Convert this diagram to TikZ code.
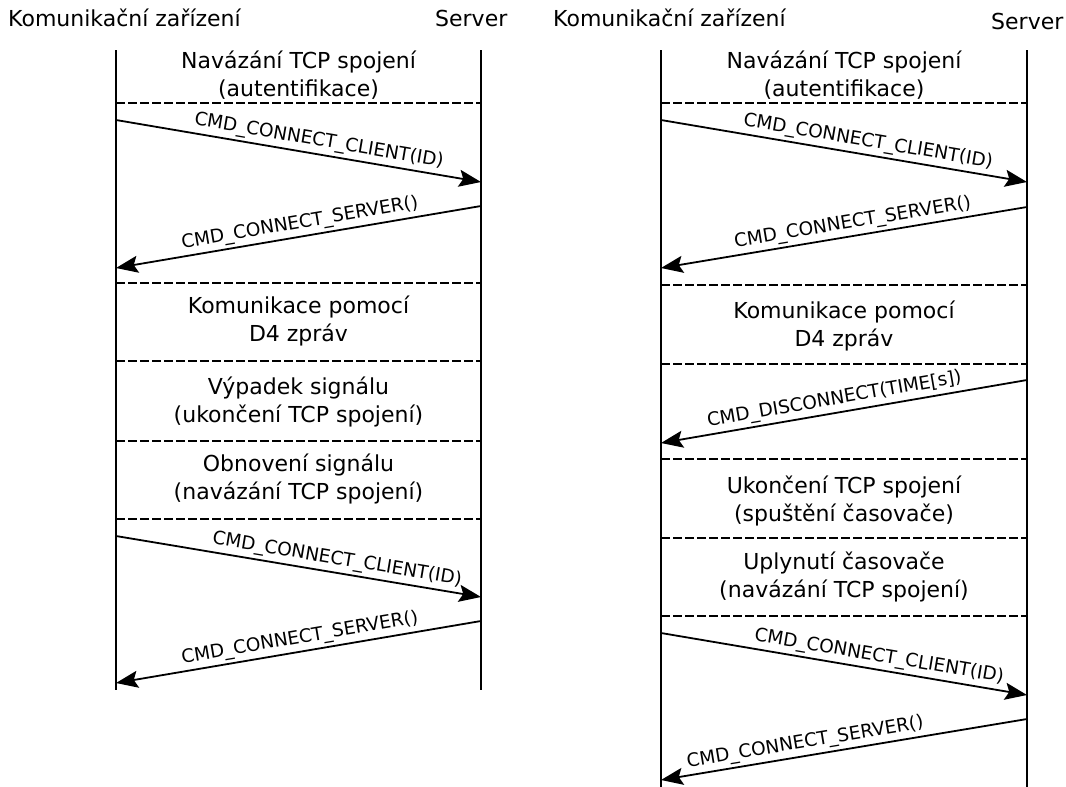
\documentclass[tikz,border=0pt]{standalone}
\usepackage{fontspec}
\setmainfont{DejaVu Sans}
\usetikzlibrary{arrows.meta}
\begin{document}
\begin{tikzpicture}[x=1pt,y=-1pt,
  life/.style={line width=2.3pt},
  sep/.style={line width=1.4pt, dash pattern=on 9pt off 3pt},
  msg/.style={line width=1.8pt, -{Stealth[length=22pt,width=17pt,inset=4pt]}},
  lbl/.style={font=\fontsize{18.5}{20}\selectfont, sloped, above, inner sep=3pt},
  phase/.style={font=\fontsize{22}{27.5}\selectfont, align=center, inner sep=0pt},
  head/.style={font=\fontsize{22}{24}\selectfont, anchor=base west, inner sep=0pt}]
\useasboundingbox (0,0) rectangle (1066,787);

% ---------- left sequence: signal loss ----------
\node[head] (aDev) at (8,26) {Komunikační zařízení};
\node[head] (aSrv) at (435,26) {Server};
\coordinate (aLt) at (116,50);  \coordinate (aLb) at (116,690);
\coordinate (aRt) at (481,50);  \coordinate (aRb) at (481,690);
\draw[life] (aLt) -- (aLb);
\draw[life] (aRt) -- (aRb);

\node[phase] (aP1) at (298.5,75) {Navázání TCP spojení\\(autentifikace)};
\coordinate (aD1l) at (116,103); \coordinate (aD1r) at (481,103);
\draw[sep] (aD1l) -- (aD1r);

\coordinate (aM1s) at (116,120); \coordinate (aM1e) at (481,182);
\draw[msg] (aM1s) -- node[lbl, pos=0.55] (aM1) {CMD\_CONNECT\_CLIENT(ID)} (aM1e);
\coordinate (aM2s) at (481,206); \coordinate (aM2e) at (116,268);
\draw[msg] (aM2s) -- node[lbl, pos=0.49] (aM2) {CMD\_CONNECT\_SERVER()} (aM2e);

\coordinate (aD2l) at (116,283); \coordinate (aD2r) at (481,283);
\draw[sep] (aD2l) -- (aD2r);
\node[phase] (aP2) at (298.5,321) {Komunikace pomocí\\D4 zpráv};
\coordinate (aD3l) at (116,361); \coordinate (aD3r) at (481,361);
\draw[sep] (aD3l) -- (aD3r);
\node[phase] (aP3) at (298.5,402) {Výpadek signálu\\(ukončení TCP spojení)};
\coordinate (aD4l) at (116,441); \coordinate (aD4r) at (481,441);
\draw[sep] (aD4l) -- (aD4r);
\node[phase] (aP4) at (298.5,479) {Obnovení signálu\\(navázání TCP spojení)};
\coordinate (aD5l) at (116,519); \coordinate (aD5r) at (481,519);
\draw[sep] (aD5l) -- (aD5r);

\coordinate (aM3s) at (116,536); \coordinate (aM3e) at (481,597);
\draw[msg] (aM3s) -- node[lbl, pos=0.60] (aM3) {CMD\_CONNECT\_CLIENT(ID)} (aM3e);
\coordinate (aM4s) at (481,621); \coordinate (aM4e) at (116,683);
\draw[msg] (aM4s) -- node[lbl, pos=0.49] (aM4) {CMD\_CONNECT\_SERVER()} (aM4e);

% ---------- right sequence: server-initiated disconnect ----------
\node[head] (bDev) at (553,26) {Komunikační zařízení};
\node[head] (bSrv) at (991,29) {Server};
\coordinate (bLt) at (661,50);  \coordinate (bLb) at (661,787);
\coordinate (bRt) at (1027,50); \coordinate (bRb) at (1027,787);
\draw[life] (bLt) -- (bLb);
\draw[life] (bRt) -- (bRb);

\node[phase] (bP1) at (844,75) {Navázání TCP spojení\\(autentifikace)};
\coordinate (bD1l) at (661,103); \coordinate (bD1r) at (1027,103);
\draw[sep] (bD1l) -- (bD1r);

\coordinate (bM1s) at (661,120); \coordinate (bM1e) at (1027,182);
\draw[msg] (bM1s) -- node[lbl, pos=0.56] (bM1) {CMD\_CONNECT\_CLIENT(ID)} (bM1e);
\coordinate (bM2s) at (1027,207); \coordinate (bM2e) at (661,268);
\draw[msg] (bM2s) -- node[lbl, pos=0.47] (bM2) {CMD\_CONNECT\_SERVER()} (bM2e);

\coordinate (bD2l) at (661,285); \coordinate (bD2r) at (1027,285);
\draw[sep] (bD2l) -- (bD2r);
\node[phase] (bP2) at (844,326) {Komunikace pomocí\\D4 zpráv};
\coordinate (bD3l) at (661,364); \coordinate (bD3r) at (1027,364);
\draw[sep] (bD3l) -- (bD3r);

\coordinate (bM3s) at (1027,380); \coordinate (bM3e) at (661,443);
\draw[msg] (bM3s) -- node[lbl, pos=0.52] (bM3) {CMD\_DISCONNECT(TIME[s])} (bM3e);

\coordinate (bD4l) at (661,459); \coordinate (bD4r) at (1027,459);
\draw[sep] (bD4l) -- (bD4r);
\node[phase] (bP3) at (844,501) {Ukončení TCP spojení\\(spuštění časovače)};
\coordinate (bD5l) at (661,538); \coordinate (bD5r) at (1027,538);
\draw[sep] (bD5l) -- (bD5r);
\node[phase] (bP4) at (844,577) {Uplynutí časovače\\(navázání TCP spojení)};
\coordinate (bD6l) at (661,616); \coordinate (bD6r) at (1027,616);
\draw[sep] (bD6l) -- (bD6r);

\coordinate (bM4s) at (661,633); \coordinate (bM4e) at (1027,695);
\draw[msg] (bM4s) -- node[lbl, pos=0.59] (bM4) {CMD\_CONNECT\_CLIENT(ID)} (bM4e);
\coordinate (bM5s) at (1027,719); \coordinate (bM5e) at (661,780);
\draw[msg] (bM5s) -- node[lbl, pos=0.60] (bM5) {CMD\_CONNECT\_SERVER()} (bM5e);
\end{tikzpicture}
\end{document}
